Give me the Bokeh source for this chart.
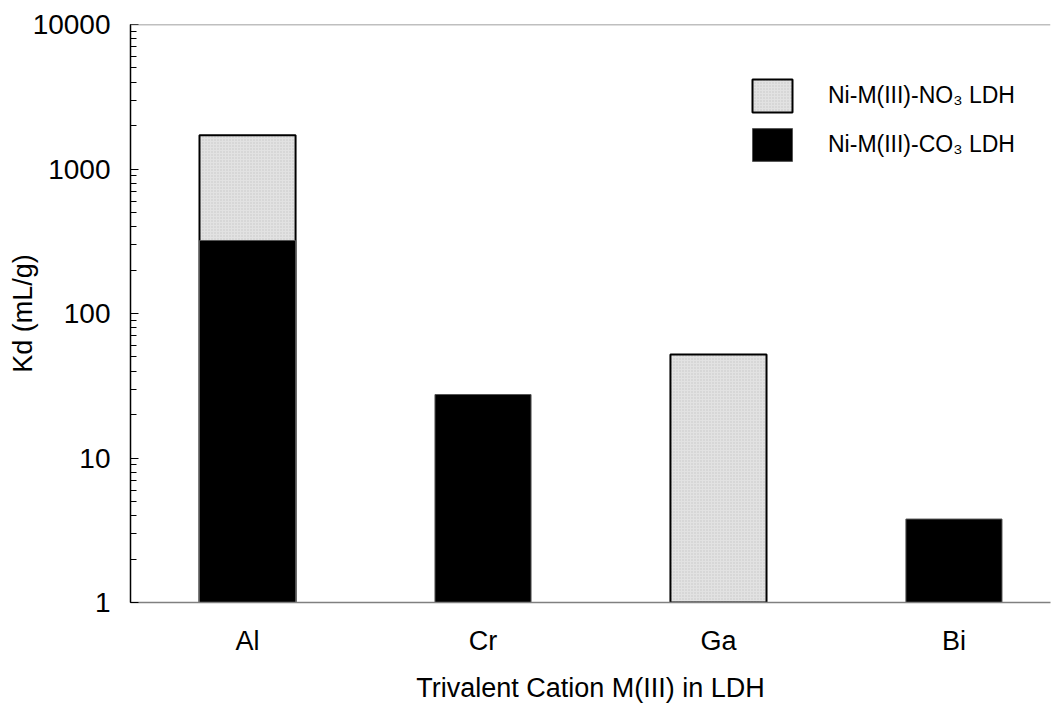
import numpy as np
from bokeh.plotting import figure
from bokeh.models import (ColumnDataSource, Legend, LegendItem, Span, FixedTicker,
                          LogTicker)
from bokeh.embed import file_html
from bokeh.resources import INLINE

categories = ["Al", "Cr", "Ga", "Bi"]
no3_kd = [1710, None, 52, None]      # Ni-M(III)-NO3 LDH
co3_kd = [320, 27.5, None, 3.78]     # Ni-M(III)-CO3 LDH

xpos = list(range(1, len(categories) + 1))

def src(vals):
    xs = [x for x, v in zip(xpos, vals) if v is not None]
    ys = [v for v in vals if v is not None]
    return ColumnDataSource(dict(x=xs, top=ys, bottom=[1] * len(ys)))

FONT = "Liberation Sans"

p = figure(width=1054, height=705, y_axis_type="log",
           x_range=(0.503, 4.41), y_range=(1, 10000),
           output_backend="svg", toolbar_location=None,
           min_border_left=130, min_border_right=4,
           min_border_top=24, min_border_bottom=100)
p.outline_line_color = None
p.xgrid.grid_line_color = None
p.ygrid.grid_line_color = None
p.background_fill_color = "white"
p.border_fill_color = "white"

r_no3 = p.vbar(x="x", top="top", bottom="bottom", width=0.408, source=src(no3_kd),
               fill_color="#e2e2e2", line_color="black", line_width=2,
               hatch_pattern="dot", hatch_color="#c4c4c4", hatch_scale=3, hatch_weight=1)
r_co3 = p.vbar(x="x", top="top", bottom="bottom", width=0.408, source=src(co3_kd),
               fill_color="black", line_color="#555555", line_width=1)

# top frame line
p.add_layout(Span(location=10000, dimension="width", line_color="#808080", line_width=1.5))

# x axis
p.xaxis.ticker = FixedTicker(ticks=xpos)
p.xaxis.major_label_overrides = {x: c for x, c in zip(xpos, categories)}
p.xaxis.major_tick_line_color = None
p.xaxis.minor_tick_line_color = None
p.xaxis.axis_line_color = "#808080"
p.xaxis.axis_line_width = 1.5
p.xaxis.major_label_standoff = 17
p.xaxis.major_label_text_font = FONT
p.xaxis.major_label_text_font_size = "27px"
p.xaxis.major_label_text_color = "black"
p.xaxis.axis_label = "Trivalent Cation M(III) in LDH"
p.xaxis.axis_label_text_font = FONT
p.xaxis.axis_label_text_font_size = "27px"
p.xaxis.axis_label_text_font_style = "normal"
p.xaxis.axis_label_text_color = "black"
p.xaxis.axis_label_standoff = 14

# y axis
p.yaxis.ticker = LogTicker(desired_num_ticks=5, num_minor_ticks=10)
p.yaxis.axis_line_color = "black"
p.yaxis.axis_line_width = 1.5
p.yaxis.major_tick_in = 8
p.yaxis.major_tick_out = 0
p.yaxis.minor_tick_in = 6
p.yaxis.minor_tick_out = 0
p.yaxis.major_tick_line_color = "black"
p.yaxis.minor_tick_line_color = "black"
p.yaxis.major_tick_line_width = 1.2
p.yaxis.minor_tick_line_width = 1.2
p.yaxis.major_label_standoff = 20
p.yaxis.major_label_text_font = FONT
p.yaxis.major_label_text_font_size = "28px"
p.yaxis.major_label_text_color = "black"
p.yaxis.major_label_overrides = {1: "1", 10: "10", 100: "100", 1000: "1000", 10000: "10000"}
p.yaxis.axis_label = "Kd (mL/g)"
p.yaxis.axis_label_text_font = FONT
p.yaxis.axis_label_text_font_size = "27px"
p.yaxis.axis_label_text_font_style = "normal"
p.yaxis.axis_label_text_color = "black"
p.yaxis.axis_label_standoff = -8

legend = Legend(items=[LegendItem(label="Ni-M(III)-NO\u2083 LDH", renderers=[r_no3]),
                       LegendItem(label="Ni-M(III)-CO\u2083 LDH", renderers=[r_co3])],
                location=(617, 437), orientation="vertical",
                glyph_width=50, glyph_height=41, spacing=8, padding=0, margin=0,
                label_standoff=31, label_text_font=FONT, label_text_font_size="23px",
                label_text_color="black",
                border_line_color=None, background_fill_alpha=0)
p.add_layout(legend, "center")

open("out.html", "w").write(file_html(p, INLINE))
